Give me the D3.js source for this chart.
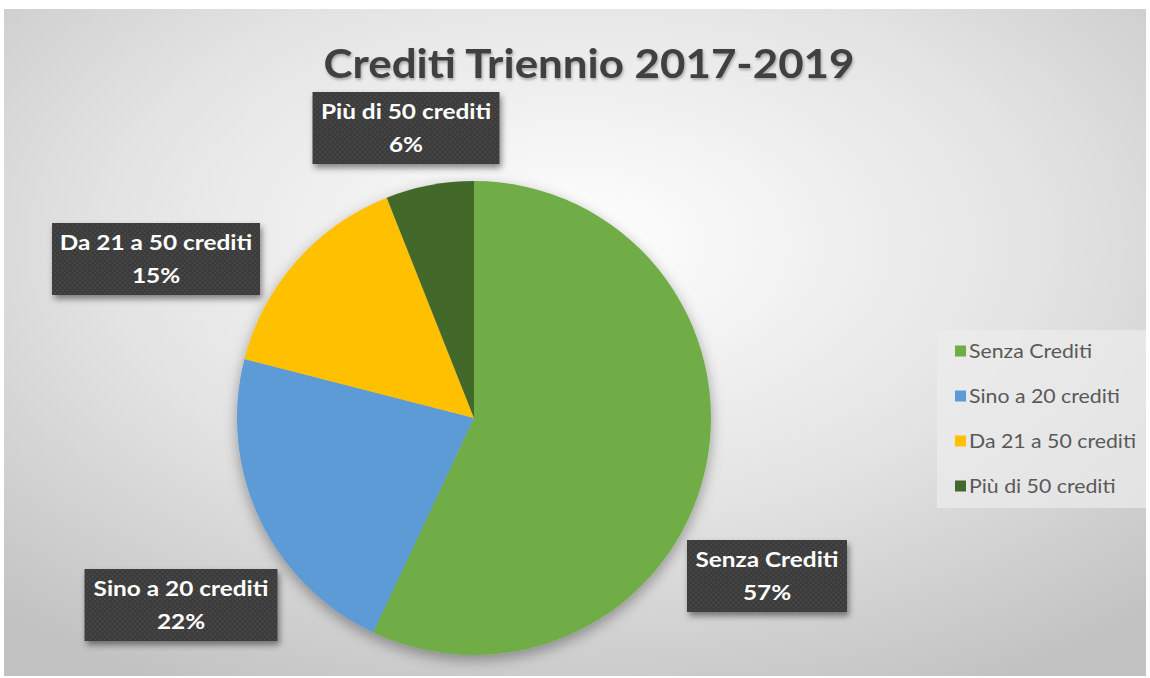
<!DOCTYPE html>
<html>
<head>
<meta charset="utf-8">
<script src="https://cdn.jsdelivr.net/npm/d3@7"></script>
<style>
  body { margin: 0; background: #fff; }
  svg text { font-family: Lato, "Open Sans", sans-serif; }
</style>
</head>
<body>
<div id="chart"></div>
<script>
// Data
const categories = ["Senza Crediti", "Sino a 20 crediti", "Da 21 a 50 crediti", "Più di 50 crediti"];
const values = [57, 22, 15, 6];
const colors = ["#70AD47", "#5B9BD5", "#FFC000", "#43682B"];
const title = "Crediti Triennio 2017-2019";

// Layout
const W = 1150, H = 678;
const center = {x: 474, y: 418};
const radius = 237;
// label box centres, relative to pie centre (Excel custom placement)
const labelOffsets = [[293, 158], [-293, 187], [-318, -159], [-68, -290]];
const labelWidths = [160, 193, 208, 187];

// the original font (Calibri) runs wider than Lato: stretch text horizontally
function stretch(sel, k) {
    sel.each(function() {
        const w = this.getComputedTextLength();
        d3.select(this)
            .attr("textLength", w * k)
            .attr("lengthAdjust", "spacingAndGlyphs");
    });
}

const svg = d3.select("#chart")
    .append("svg")
    .attr("width", W)
    .attr("height", H);

const defs = svg.append("defs");

// background gradient
const bg = defs.append("radialGradient")
    .attr("id", "bg")
    .attr("cx", "50%").attr("cy", "35%").attr("r", "75%");
bg.append("stop").attr("offset", "0%").attr("stop-color", "#ffffff");
bg.append("stop").attr("offset", "55%").attr("stop-color", "#e3e3e3");
bg.append("stop").attr("offset", "100%").attr("stop-color", "#c2c2c2");

// shadows
const pieShadow = defs.append("filter").attr("id", "pieShadow")
    .attr("x", "-20%").attr("y", "-20%").attr("width", "140%").attr("height", "140%");
pieShadow.append("feDropShadow")
    .attr("dx", 0).attr("dy", 5).attr("stdDeviation", 7)
    .attr("flood-color", "#000").attr("flood-opacity", 0.35);

const boxShadow = defs.append("filter").attr("id", "boxShadow")
    .attr("x", "-20%").attr("y", "-20%").attr("width", "140%").attr("height", "150%");
boxShadow.append("feDropShadow")
    .attr("dx", 2).attr("dy", 4).attr("stdDeviation", 3)
    .attr("flood-color", "#000").attr("flood-opacity", 0.45);

const textShadow = defs.append("filter").attr("id", "textShadow");
textShadow.append("feDropShadow")
    .attr("dx", 1).attr("dy", 2).attr("stdDeviation", 1.5)
    .attr("flood-color", "#000").attr("flood-opacity", 0.3);

// dotted pattern for label boxes
const pat = defs.append("pattern").attr("id", "dots")
    .attr("width", 5).attr("height", 5)
    .attr("patternUnits", "userSpaceOnUse");
pat.append("rect").attr("width", 5).attr("height", 5).attr("fill", "#3b3b3b");
pat.append("circle").attr("cx", 1.5).attr("cy", 1.5).attr("r", 1).attr("fill", "#4b4b4b");
pat.append("circle").attr("cx", 4).attr("cy", 4).attr("r", 1).attr("fill", "#4b4b4b");

// chart area
svg.append("rect")
    .attr("x", 4).attr("y", 9)
    .attr("width", W - 8).attr("height", H - 11)
    .attr("fill", "url(#bg)");

// title
svg.append("text")
    .attr("x", 589)
    .attr("y", 78)
    .attr("text-anchor", "middle")
    .attr("font-size", 41)
    .attr("font-weight", "bold")
    .attr("fill", "#404040")
    .attr("filter", "url(#textShadow)")
    .text(title)
    .call(stretch, 1.07);

// pie
const pie = d3.pie().sort(null).value(d => d.value);
const arc = d3.arc().innerRadius(0).outerRadius(radius);
const slices = pie(categories.map((c, i) => ({name: c, value: values[i], color: colors[i]})));

const g = svg.append("g")
    .attr("transform", `translate(${center.x},${center.y})`);

g.append("g")
    .attr("filter", "url(#pieShadow)")
    .selectAll("path")
    .data(slices)
    .join("path")
    .attr("d", arc)
    .attr("fill", d => d.data.color);

// labels
const labels = g.selectAll("g.label")
    .data(slices)
    .join("g")
    .attr("class", "label")
    .attr("transform", (d, i) => `translate(${labelOffsets[i][0]},${labelOffsets[i][1]})`);

labels.append("rect")
    .attr("x", (d, i) => -labelWidths[i] / 2)
    .attr("y", -36)
    .attr("width", (d, i) => labelWidths[i])
    .attr("height", 72)
    .attr("fill", "url(#dots)")
    .attr("filter", "url(#boxShadow)");

labels.append("text")
    .attr("text-anchor", "middle")
    .attr("y", -9)
    .attr("font-size", 21)
    .attr("font-weight", "bold")
    .attr("fill", "#fff")
    .text(d => d.data.name)
    .call(stretch, 1.16);

labels.append("text")
    .attr("text-anchor", "middle")
    .attr("y", 24)
    .attr("font-size", 21)
    .attr("font-weight", "bold")
    .attr("fill", "#fff")
    .text(d => `${d.data.value}%`)
    .call(stretch, 1.16);

// legend
svg.append("rect")
    .attr("x", 937).attr("y", 330)
    .attr("width", 209).attr("height", 178)
    .attr("fill", "#ececec")
    .attr("fill-opacity", 0.7);

const legend = svg.append("g")
    .selectAll("g")
    .data(categories)
    .join("g")
    .attr("transform", (d, i) => `translate(955,${351 + i * 45})`);

legend.append("rect")
    .attr("x", 0).attr("y", -5.5)
    .attr("width", 11).attr("height", 11)
    .attr("fill", (d, i) => colors[i]);

legend.append("text")
    .attr("x", 14)
    .attr("dy", "0.35em")
    .attr("font-size", 19)
    .attr("fill", "#595959")
    .text(d => d)
    .call(stretch, 1.12);
</script>
</body>
</html>
